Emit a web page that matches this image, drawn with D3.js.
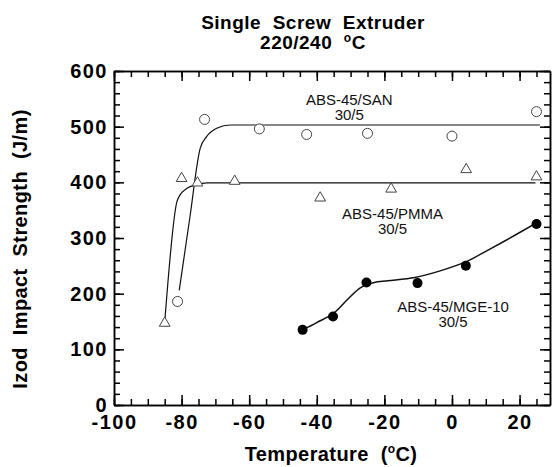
<!DOCTYPE html>
<html>
<head>
<meta charset="utf-8">
<script src="https://cdn.jsdelivr.net/npm/d3@7"></script>
<style>
  html, body { margin: 0; padding: 0; background: #fff; }
  svg { display: block; font-family: 'Liberation Sans', Arial, Helvetica, sans-serif; }
  svg text { white-space: pre; }
</style>
</head>
<body>
<div id="chart"></div>
<script>
// measured points, [temperature, impact strength]
const sanPoints = [[-81.2, 186], [-73.2, 513], [-57, 496], [-43, 486], [-25, 488], [0, 483], [25, 527]]
const pmmaPoints = [[-85, 147], [-80, 407], [-75.3, 399], [-64.3, 402], [-39, 372], [-18, 388], [4.2, 423], [25, 410]]
const mgePoints = [[-44.2, 135], [-35.2, 159], [-25.3, 220], [-10.2, 219], [4.1, 250], [25, 325]]

// fitted curves
const sanCurve = [[-80.7, 206], [-77.6, 335], [-74.5, 461], [-72.6, 482], [-69.6, 497], [-65.6, 503], [-55, 503], [26, 503]]
const pmmaCurve = [[-84.9, 156], [-81.4, 365], [-80.5, 377], [-78.5, 389], [-75.5, 396], [-72.5, 399], [-60, 399], [24.7, 399]]
const mgeCurve = [[-44.2, 135], [-40, 148], [-35, 165], [-31, 189], [-27, 211], [-23, 220], [-19, 223], [-11, 229],
  [-3.5, 241], [4.4, 258], [10, 276], [16, 296], [25, 327]]

const seriesLabels = [
  { lines: ['ABS-45/SAN', '30/5'], at: [-30.4, 539] },
  { lines: ['ABS-45/PMMA', '30/5'], at: [-17.6, 335] },
  { lines: ['ABS-45/MGE-10', '30/5'], at: [0.3, 166.5] },
]

const xMajor = [-100, -80, -60, -40, -20, 0, 20]
const xMinor = d3.range(-100, 26, 5)
const yMajor = [0, 100, 200, 300, 400, 500, 600]
const yMinor = d3.range(0, 601, 20)

const width = 552
const height = 467
const margin = { top: 71, right: 2, bottom: 62, left: 114 }

const svg = d3.select('#chart').append('svg')
  .attr('width', width)
  .attr('height', height)

const x = d3.scaleLinear().domain([-100, 29]).range([margin.left, width - margin.right])
const y = d3.scaleLinear().domain([0, 600]).range([height - margin.bottom, margin.top])

// axes, ticks pointing inward
function styleAxis(g) {
  g.selectAll('path, line').attr('stroke', '#000').attr('stroke-width', 1.5)
  g.selectAll('text')
    .attr('font-size', 20)
    .attr('font-weight', 'bold')
    .attr('letter-spacing', 1.5)
    .attr('fill', '#000')
    .attr('font-family', "'Liberation Sans', Arial, sans-serif")
}
const plain = d => String(d)

const bottomAxis = svg.append('g').attr('transform', `translate(0,${y(0)})`)
bottomAxis.call(d3.axisBottom(x).tickValues(xMinor).tickSize(-6).tickSizeOuter(0).tickFormat(''))
bottomAxis.append('g').call(d3.axisBottom(x).tickValues(xMajor).tickSize(-10).tickSizeOuter(0).tickPadding(10).tickFormat(plain))
styleAxis(bottomAxis)

const topAxis = svg.append('g').attr('transform', `translate(0,${y(600)})`)
topAxis.call(d3.axisTop(x).tickValues(xMinor).tickSize(-6).tickSizeOuter(0).tickFormat(''))
topAxis.append('g').call(d3.axisTop(x).tickValues(xMajor).tickSize(-10).tickSizeOuter(0).tickFormat(''))
styleAxis(topAxis)

const leftAxis = svg.append('g').attr('transform', `translate(${x(-100)},0)`)
leftAxis.call(d3.axisLeft(y).tickValues(yMinor).tickSize(-6).tickSizeOuter(0).tickFormat(''))
leftAxis.append('g').call(d3.axisLeft(y).tickValues(yMajor).tickSize(-10).tickSizeOuter(0).tickPadding(6).tickFormat(plain))
styleAxis(leftAxis)

const rightAxis = svg.append('g').attr('transform', `translate(${x(29)},0)`)
rightAxis.call(d3.axisRight(y).tickValues(yMinor).tickSize(-6).tickSizeOuter(0).tickFormat(''))
rightAxis.append('g').call(d3.axisRight(y).tickValues(yMajor).tickSize(-10).tickSizeOuter(0).tickFormat(''))
styleAxis(rightAxis)

// curves
const line = d3.line().x(d => x(d[0])).y(d => y(d[1]))
const curves = [
  { data: sanCurve, curve: d3.curveMonotoneX, w: 1.2 },
  { data: pmmaCurve, curve: d3.curveMonotoneX, w: 1.2 },
  { data: mgeCurve, curve: d3.curveCatmullRom, w: 1.5 },
]
curves.forEach(c => {
  svg.append('path')
    .attr('d', line.curve(c.curve)(c.data))
    .attr('fill', 'none')
    .attr('stroke', '#111')
    .attr('stroke-width', c.w)
})

// markers
svg.append('g').selectAll('circle')
  .data(sanPoints)
  .join('circle')
  .attr('cx', d => x(d[0]))
  .attr('cy', d => y(d[1]))
  .attr('r', 5)
  .attr('fill', '#fff')
  .attr('stroke', '#444')
  .attr('stroke-width', 1)

const tri = d3.symbol().type(d3.symbolTriangle).size(50)
svg.append('g').selectAll('path')
  .data(pmmaPoints)
  .join('path')
  .attr('transform', d => `translate(${x(d[0])},${y(d[1])})`)
  .attr('d', tri)
  .attr('fill', '#fff')
  .attr('stroke', '#444')
  .attr('stroke-width', 1)

svg.append('g').selectAll('circle')
  .data(mgePoints)
  .join('circle')
  .attr('cx', d => x(d[0]))
  .attr('cy', d => y(d[1]))
  .attr('r', 5)
  .attr('fill', '#000')

// series labels
seriesLabels.forEach(l => {
  const t = svg.append('text')
    .attr('x', x(l.at[0]))
    .attr('y', y(l.at[1]))
    .attr('text-anchor', 'middle')
    .attr('font-size', 15)
    .attr('fill', '#111')
  l.lines.forEach((s, i) => {
    t.append('tspan').attr('x', x(l.at[0])).attr('dy', i === 0 ? 0 : 15).text(s)
  })
})

// titles
const title = svg.append('text')
  .attr('text-anchor', 'middle')
  .attr('font-size', 19)
  .attr('font-weight', 'bold')
  .attr('letter-spacing', 0.5)
title.append('tspan').attr('x', 313).attr('y', 28.5).text('Single  Screw  Extruder')
const t2 = title.append('tspan').attr('x', 313).attr('y', 49)
t2.append('tspan').text('220/240  ')
t2.append('tspan').attr('font-size', 12).attr('dy', -7).text('o')
t2.append('tspan').attr('dy', 7).text('C')

const xTitle = svg.append('text')
  .attr('x', 331)
  .attr('y', 461)
  .attr('text-anchor', 'middle')
  .attr('font-size', 20)
  .attr('font-weight', 'bold')
  .attr('letter-spacing', 0.4)
xTitle.append('tspan').text('Temperature  (')
xTitle.append('tspan').attr('font-size', 12).attr('dy', -8).text('o')
xTitle.append('tspan').attr('dy', 8).text('C)')

svg.append('text')
  .attr('transform', 'translate(27,249) rotate(-90)')
  .attr('text-anchor', 'middle')
  .attr('font-size', 20)
  .attr('font-weight', 'bold')
  .attr('letter-spacing', 0.4)
  .text('Izod  Impact  Strength  (J/m)')
</script>
</body>
</html>
